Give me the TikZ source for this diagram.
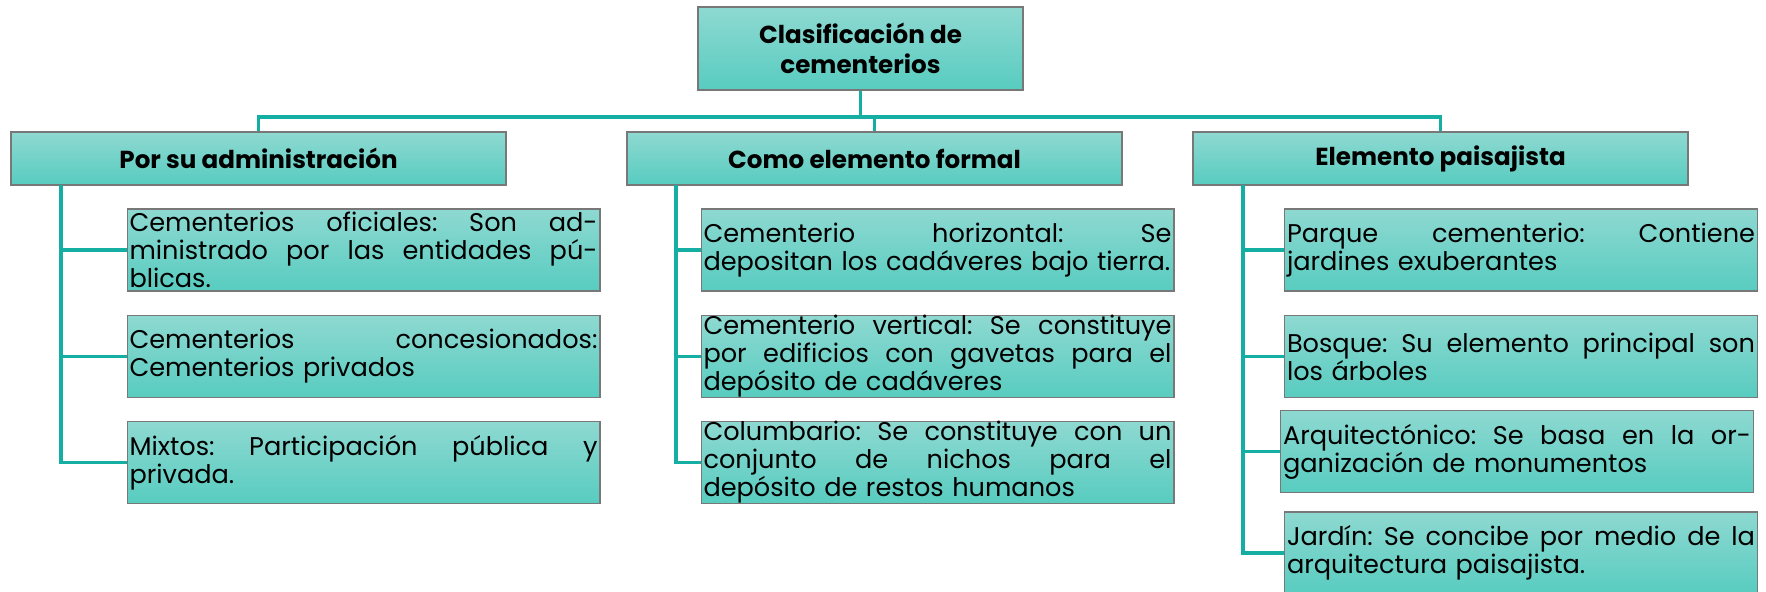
\documentclass[tikz,border=0pt]{standalone}
\usepackage{fontspec}
\setmainfont{Poppins}
\definecolor{tealtop}{RGB}{142,217,209}
\definecolor{tealbot}{RGB}{88,204,192}
\definecolor{boxgray}{RGB}{120,120,120}
\definecolor{linkteal}{RGB}{20,174,162}
\newlength{\subw}
\setlength{\subw}{234pt}
\newcommand{\justln}[1]{\hbox to \subw{\spaceskip=\fontdimen2\font plus 1fil\relax\xspaceskip=\spaceskip #1}\par}
\newcommand{\lastln}[1]{\hbox to \subw{\xspaceskip=\fontdimen2\font\relax #1\hfil}\par}
\newcommand{\subfont}{\fontsize{12.8}{14}\selectfont\frenchspacing}
\newcommand{\headfont}{\bfseries\fontsize{12.3}{15}\selectfont}
\tikzset{
  boxbase/.style={draw=boxgray, line width=0.6pt, top color=tealtop, bottom color=tealbot, inner ysep=0pt},
  subbox/.style={boxbase, text width=\subw, inner xsep=1.2pt, minimum height=41pt, font=\subfont},
  headbox/.style={boxbase, minimum width=247.5pt, minimum height=26.5pt, align=center, font=\headfont},
  titlebox/.style={boxbase, minimum width=162.5pt, minimum height=41.5pt, align=center, font=\headfont},
  link/.style={draw=linkteal, line width=1.6pt}
}
\begin{document}
\begin{tikzpicture}[x=0.5pt, y=-0.5pt]
\useasboundingbox (0,0) rectangle (1766,592);
% title
\node[titlebox] (T) at (860.5,48.5) {Clasificación de\\cementerios};
% main categories
\node[headbox] (L) at (258.5,158.5) {Por su administración};
\node[headbox] (M) at (874.5,158.5) {Como elemento formal};
\node[headbox] (R) at (1440.5,158.5) {Elemento paisajista};
% left column
\node[subbox] (L1) at (363.5,250) {\justln{Cementerios oficiales: Son ad-}\justln{ministrado por las entidades pú-}\lastln{blicas.}};
\node[subbox] (L2) at (363.5,356.5) {\justln{Cementerios concesionados:}\lastln{Cementerios privados}};
\node[subbox] (L3) at (363.5,462.5) {\justln{Mixtos: Participación pública y}\lastln{privada.}};
% middle column
\node[subbox] (M1) at (937.5,250) {\justln{Cementerio horizontal: Se}\lastln{depositan los cadáveres bajo tierra.}};
\node[subbox] (M2) at (937.5,356.5) {\justln{Cementerio vertical: Se constituye}\justln{por edificios con gavetas para el}\lastln{depósito de cadáveres}};
\node[subbox] (M3) at (937.5,462.5) {\justln{Columbario: Se constituye con un}\justln{conjunto de nichos para el}\lastln{depósito de restos humanos}};
% right column
\node[subbox] (R1) at (1521,250) {\justln{Parque cementerio: Contiene}\lastln{jardines exuberantes}};
\node[subbox] (R2) at (1521,356.5) {\justln{Bosque: Su elemento principal son}\lastln{los árboles}};
\node[subbox] (R3) at (1517,451.5) {\justln{Arquitectónico: Se basa en la or-}\lastln{ganización de monumentos}};
\node[subbox] (R4) at (1521,553) {\justln{Jardín: Se concibe por medio de la}\lastln{arquitectura paisajista.}};
% connectors
\coordinate (bus) at (860.5,117);
\draw[link] (T.south) -- (bus);
\draw[link] (bus) -| (L.north);
\draw[link] (bus) -| (M.north);
\draw[link] (bus) -| (R.north);
\coordinate (Lv) at (61,185);
\coordinate (Mv) at (676,185);
\coordinate (Rv) at (1243,185);
\draw[link] (Lv) |- (L1.west);
\draw[link] (Lv) |- (L2.west);
\draw[link] (Lv) |- (L3.west);
\draw[link] (Mv) |- (M1.west);
\draw[link] (Mv) |- (M2.west);
\draw[link] (Mv) |- (M3.west);
\draw[link] (Rv) |- (R1.west);
\draw[link] (Rv) |- (R2.west);
\draw[link] (Rv) |- (R3.west);
\draw[link] (Rv) |- (R4.west);
\end{tikzpicture}
\end{document}
